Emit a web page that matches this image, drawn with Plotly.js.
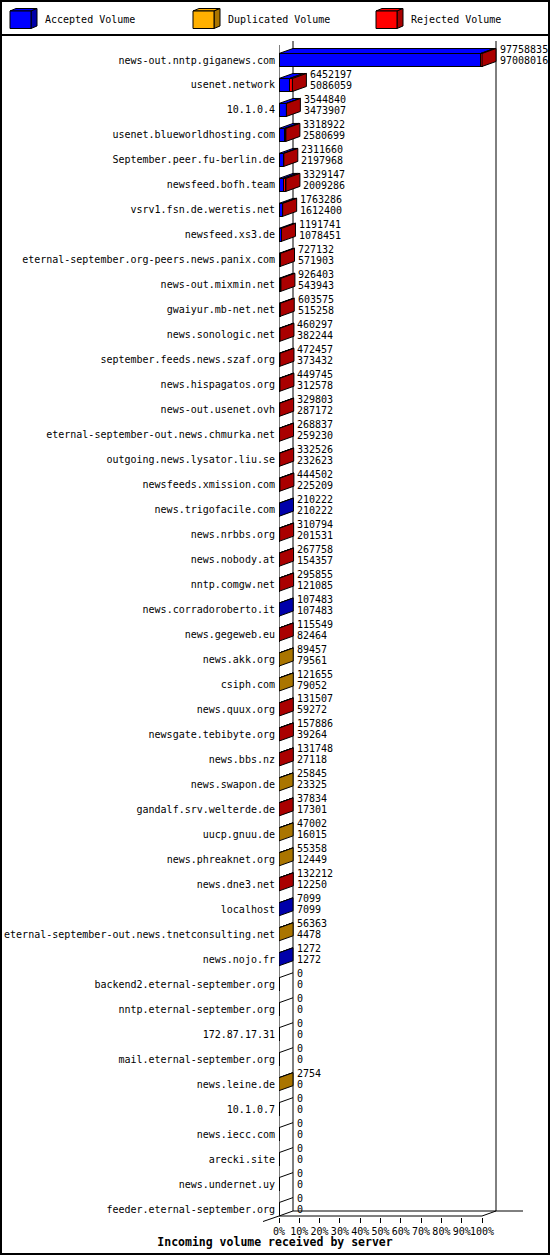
<!DOCTYPE html>
<html>
<head>
<meta charset="utf-8">
<script src="https://cdn.plot.ly/plotly-3.0.1.min.js"></script>
<style>
html, body { margin: 0; padding: 0; background: #fff; overflow: hidden; }
#chart { width: 550px; height: 1255px; }
</style>
</head>
<body>
<div id="chart"></div>
<script>
// incoming volume per feeding server
var servers = [
  "news-out.nntp.giganews.com", "usenet.network", "10.1.0.4", "usenet.blueworldhosting.com",
  "September.peer.fu-berlin.de", "newsfeed.bofh.team", "vsrv1.fsn.de.weretis.net", "newsfeed.xs3.de",
  "eternal-september.org-peers.news.panix.com", "news-out.mixmin.net", "gwaiyur.mb-net.net",
  "news.sonologic.net", "september.feeds.news.szaf.org", "news.hispagatos.org", "news-out.usenet.ovh",
  "eternal-september-out.news.chmurka.net", "outgoing.news.lysator.liu.se", "newsfeeds.xmission.com",
  "news.trigofacile.com", "news.nrbbs.org", "news.nobody.at", "nntp.comgw.net", "news.corradoroberto.it",
  "news.gegeweb.eu", "news.akk.org", "csiph.com", "news.quux.org", "newsgate.tebibyte.org", "news.bbs.nz",
  "news.swapon.de", "gandalf.srv.welterde.de", "uucp.gnuu.de", "news.phreaknet.org", "news.dne3.net",
  "localhost", "eternal-september-out.news.tnetconsulting.net", "news.nojo.fr",
  "backend2.eternal-september.org", "nntp.eternal-september.org", "172.87.17.31",
  "mail.eternal-september.org", "news.leine.de", "10.1.0.7", "news.iecc.com", "arecki.site",
  "news.undernet.uy", "feeder.eternal-september.org"
];
var totalVolume = [
  97758835, 6452197, 3544840, 3318922, 2311660, 3329147, 1763286, 1191741, 727132, 926403,
  603575, 460297, 472457, 449745, 329803, 268837, 332526, 444502, 210222, 310794,
  267758, 295855, 107483, 115549, 89457, 121655, 131507, 157886, 131748, 25845,
  37834, 47002, 55358, 132212, 7099, 56363, 1272, 0, 0, 0,
  0, 2754, 0, 0, 0, 0, 0
];
var acceptedVolume = [
  97008016, 5086059, 3473907, 2580699, 2197968, 2009286, 1612400, 1078451, 571903, 543943,
  515258, 382244, 373432, 312578, 287172, 259230, 232623, 225209, 210222, 201531,
  154357, 121085, 107483, 82464, 79561, 79052, 59272, 39264, 27118, 23325,
  17301, 16015, 12449, 12250, 7099, 4478, 1272, 0, 0, 0,
  0, 0, 0, 0, 0, 0, 0
];
var duplicatedVolume = [
  0, 0, 0, 0, 0, 0, 0, 0, 0, 0,
  0, 0, 0, 0, 0, 0, 0, 0, 0, 0,
  0, 0, 0, 0, 9896, 42603, 0, 0, 0, 2520,
  0, 30987, 42909, 0, 0, 51885, 0, 0, 0, 0,
  0, 2754, 0, 0, 0, 0, 0
];
var rejectedVolume = [
  750819, 1366138, 70933, 738223, 113692, 1319861, 150886, 113290, 155229, 382460,
  88317, 78053, 99025, 137167, 42631, 9607, 99903, 219293, 0, 109263,
  113401, 174770, 0, 33085, 0, 0, 72235, 118622, 104630, 0,
  20533, 0, 0, 119962, 0, 0, 0, 0, 0, 0,
  0, 0, 0, 0, 0, 0, 0
];
var percentTicks = [0, 10, 20, 30, 40, 50, 60, 70, 80, 90, 100];

var FONT = "DejaVu Sans Mono, monospace";
var series = [
  {name: "Accepted Volume",   values: acceptedVolume,   front: "#0000ff", dark: "#0000aa"},
  {name: "Duplicated Volume", values: duplicatedVolume, front: "#ffb000", dark: "#aa7500"},
  {name: "Rejected Volume",   values: rejectedVolume,   front: "#ff0000", dark: "#aa0000"}
];

// plot area in pixels
var L = 279, R = 523, T = 38, B = 1217;
var PXPCT = 2.03, PITCH = 24.98;
var W = 0.52, DX = 14 / PXPCT, DY = 5 / PITCH;
function px(x){ return (x - L) / (R - L); }
function py(y){ return (B - y) / (B - T); }

var maxTotal = Math.max.apply(null, totalVolume);
function pct(v){ return v / maxTotal * 100; }
var rows = servers.map(function(s, i){ return i; });

var traces = [];
// front faces
series.forEach(function(s){
  traces.push({
    type: "bar", orientation: "h", y: rows, x: s.values.map(pct), width: W,
    marker: {color: s.front, line: {color: "#000", width: 1}},
    hoverinfo: "skip", showlegend: false
  });
});

// top faces per segment, side face at the end of each bar
var topX = [[], [], []], topY = [[], [], []];
var sideX = [[], [], []], sideY = [[], [], []];
var zeroX = [], zeroY = [];
rows.forEach(function(i){
  var yt = i - W / 2, yb = i + W / 2;
  var start = 0, last = -1;
  series.forEach(function(s, k){
    var v = pct(s.values[i]);
    if (s.values[i] > 0){
      var x0 = start, x1 = start + v;
      topX[k].push(x0, x1, x1 + DX, x0 + DX, x0, null);
      topY[k].push(yt, yt, yt - DY, yt - DY, yt, null);
      last = k;
    }
    start += v;
  });
  if (last < 0){
    zeroX.push(0, DX, null);
    zeroY.push(yt, yt - DY, null);
  } else {
    var e = start;
    sideX[last].push(e, e + DX, e + DX, e, e, null);
    sideY[last].push(yt, yt - DY, yb - DY, yb, yt, null);
  }
});
series.forEach(function(s, k){
  traces.push({
    type: "scatter", mode: "lines", x: topX[k], y: topY[k], fill: "toself",
    fillcolor: s.front, line: {color: "#000", width: 1}, hoverinfo: "skip", showlegend: false
  });
});
series.forEach(function(s, k){
  traces.push({
    type: "scatter", mode: "lines", x: sideX[k], y: sideY[k], fill: "toself",
    fillcolor: s.dark, line: {color: "#000", width: 1}, hoverinfo: "skip", showlegend: false
  });
});
traces.push({
  type: "scatter", mode: "lines", x: zeroX, y: zeroY,
  line: {color: "#000", width: 1}, hoverinfo: "skip", showlegend: false
});

// value labels at the back of each bar
var annotations = [];
rows.forEach(function(i){
  var x = pct(totalVolume[i]) + DX;
  [[totalVolume[i], 5.5], [acceptedVolume[i], -5.5]].forEach(function(p){
    annotations.push({
      x: x, y: i - DY, xref: "x", yref: "y", text: String(p[0]), showarrow: false,
      xanchor: "left", yanchor: "middle", xshift: 1.5, yshift: p[1],
      font: {family: FONT, size: 10, color: "#000"}
    });
  });
});

// frame lines
var yFront = (1216 - 60) / PITCH, yBack = yFront - DY;
var yTopFront = (45 - 60) / PITCH, yTopBack = (41 - 60) / PITCH;
var xMax = (R - L) / PXPCT;
function seg(x0, y0, x1, y1){
  return {type: "line", xref: "x", yref: "y", x0: x0, y0: y0, x1: x1, y1: y1,
          line: {color: "#000", width: 1}, layer: "below"};
}
var shapes = [
  seg(0, yTopFront, 0, yFront),
  seg(DX, yTopBack, DX, yBack),
  seg(100 + DX, yTopBack, 100 + DX, yBack),
  seg(DX, yBack, xMax, yBack),
  seg(0, yFront, 100, yFront),
  seg(100, yFront, 100 + DX, yBack),
  seg(0, yFront, DX, yBack),
  {type: "line", xref: "paper", yref: "paper", x0: px(263), y0: py(1221.5), x1: px(279), y1: py(1216),
   line: {color: "#000", width: 1}},
  // outer border and legend divider
  {type: "rect", xref: "paper", yref: "paper", x0: px(1), y0: py(1), x1: px(549), y1: py(1254),
   line: {color: "#000", width: 2}},
  {type: "line", xref: "paper", yref: "paper", x0: px(0), y0: py(35), x1: px(550), y1: py(35),
   line: {color: "#000", width: 2}}
];

// legend cubes
var legendX = [10, 193, 376];
series.forEach(function(s, k){
  var x0 = legendX[k];
  function pt(x, y){ return px(x).toFixed(5) + "," + py(y).toFixed(5); }
  shapes.push({type: "path", xref: "paper", yref: "paper", fillcolor: s.front, line: {color: "#000", width: 1},
    path: "M" + pt(x0, 11) + " L" + pt(x0 + 6, 8.5) + " L" + pt(x0 + 27, 8.5) + " L" + pt(x0 + 21, 11) + " Z"});
  shapes.push({type: "path", xref: "paper", yref: "paper", fillcolor: s.dark, line: {color: "#000", width: 1},
    path: "M" + pt(x0 + 21, 11) + " L" + pt(x0 + 27, 8.5) + " L" + pt(x0 + 27, 26) + " L" + pt(x0 + 21, 28.5) + " Z"});
  shapes.push({type: "rect", xref: "paper", yref: "paper", fillcolor: s.front, line: {color: "#000", width: 1},
    x0: px(x0), x1: px(x0 + 21), y0: py(28.5), y1: py(11)});
  annotations.push({
    x: px(x0 + 33), y: py(20), xref: "paper", yref: "paper", text: s.name, showarrow: false,
    xanchor: "left", yanchor: "middle", font: {family: FONT, size: 10, color: "#000"}
  });
});

var layout = {
  width: 550, height: 1255,
  margin: {l: L, r: 550 - R, t: T, b: 1255 - B, pad: 0},
  paper_bgcolor: "#fff", plot_bgcolor: "#fff",
  barmode: "stack", showlegend: false,
  title: {
    text: "Incoming volume received by server",
    font: {family: FONT, size: 11.5, color: "#000", weight: "bold"},
    x: 0.5, xref: "container", xanchor: "center",
    y: 1 - 1242 / 1255, yref: "container", yanchor: "middle"
  },
  xaxis: {
    range: [0, xMax], tickvals: percentTicks,
    ticktext: percentTicks.map(function(t){ return t + "%"; }),
    ticks: "outside", ticklen: 5, tickwidth: 1, tickcolor: "#000", tickangle: 0,
    showgrid: false, zeroline: false, showline: false, fixedrange: true,
    tickfont: {family: FONT, size: 10, color: "#000"}
  },
  yaxis: {
    range: [(B - 60) / PITCH, (T - 60) / PITCH], tickvals: rows, ticktext: servers,
    ticks: "", ticklabelstandoff: 3, showgrid: false, zeroline: false, showline: false, fixedrange: true,
    tickfont: {family: FONT, size: 10, color: "#000"}
  },
  shapes: shapes,
  annotations: annotations
};

Plotly.newPlot("chart", traces, layout, {displayModeBar: false, staticPlot: true});
</script>
</body>
</html>
